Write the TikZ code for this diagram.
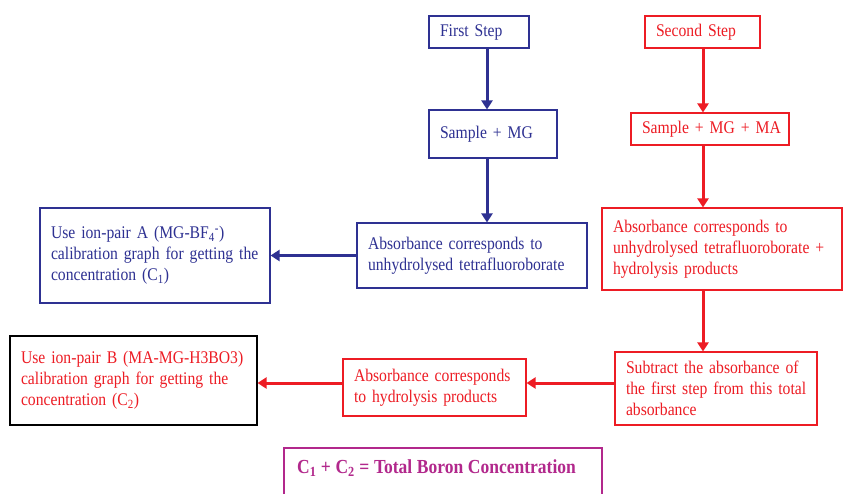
\documentclass[tikz,border=0pt]{standalone}
\usepackage{fontspec}
\setmainfont[FakeStretch=0.88]{Liberation Serif}
\usetikzlibrary{arrows.meta}
\definecolor{fblue}{RGB}{46,49,146}
\definecolor{fred}{RGB}{237,28,36}
\definecolor{fmag}{RGB}{178,40,140}
\newcommand{\boxfont}{\fontsize{17.8}{21}\selectfont\fontdimen2\font=3.9pt\relax}
\newcommand{\totfont}{\fontsize{19.9}{22}\selectfont\bfseries\fontdimen2\font=4.6pt\relax}
\newcommand{\lineof}[1]{\mbox{#1}}
\tikzset{
  box/.style={draw, line width=1.1pt, inner xsep=11pt, inner ysep=0pt, align=left, font=\boxfont},
  bbox/.style={box, draw=fblue, text=fblue},
  rbox/.style={box, draw=fred, text=fred},
  kbox/.style={box, draw=black, text=fred},
  sz/.style 2 args={text width=#1pt-22pt, minimum width=#1pt, minimum height=#2pt},
  barrow/.style={draw=fblue, line width=3pt, -{Triangle[length=9pt,width=11pt]}},
  rarrow/.style={draw=fred, line width=3pt, -{Triangle[length=9pt,width=11pt]}},
}
\begin{document}
\begin{tikzpicture}[x=1pt,y=-1pt]
\useasboundingbox[fill=white] (0,0) rectangle (843,493);
\coordinate (bx) at (487,0);
\coordinate (rx) at (703,0);
\coordinate (ry) at (0,383);
\node[bbox, sz={100}{32}] (first) at (479,32) {\lineof{First Step}};
\node[rbox, sz={115}{32}] (second) at (702.5,32) {\lineof{Second Step}};
\node[bbox, sz={128}{48}] (s1) at (493,134) {\lineof{Sample + MG}};
\node[rbox, sz={158}{32}] (s2) at (710,129) {\lineof{Sample + MG + MA}};
\node[bbox, sz={230}{65}] (a1) at (472,255.5) {\lineof{Absorbance corresponds to}\\\lineof{unhydrolysed tetrafluoroborate}};
\node[bbox, sz={230}{95}] (l1) at (155,255.5) {\lineof{Use ion-pair A (MG-BF\textsubscript{4}\textsuperscript{\textbf{-}})}\\\lineof{calibration graph for getting the}\\\lineof{concentration (C\textsubscript{1})}};
\node[rbox, sz={240}{82}] (a2) at (722,249) {\lineof{Absorbance corresponds to}\\\lineof{unhydrolysed tetrafluoroborate +}\\\lineof{hydrolysis products}};
\node[rbox, sz={202}{73}] (sub) at (716,388.5) {\lineof{Subtract the absorbance of}\\\lineof{the first step from this total}\\\lineof{absorbance}};
\node[rbox, sz={183}{57}] (hyd) at (434.5,387.5) {\lineof{Absorbance corresponds}\\\lineof{to hydrolysis products}};
\node[kbox, sz={247}{89}] (l2) at (133.5,380.5) {\lineof{Use ion-pair B (MA-MG-H3BO3)}\\\lineof{calibration graph for getting the}\\\lineof{concentration (C\textsubscript{2})}};
\node[draw=fmag, line width=2.2pt, minimum width=318pt, minimum height=62pt] (total) at (443,479) {};
\node[anchor=west, text=fmag, font=\totfont, inner sep=0pt] (ttext) at ([xshift=14pt]total.west |- 0,468) {C\textsubscript{1} + C\textsubscript{2} = Total Boron Concentration};
\draw[barrow] (first.south -| bx) -- (s1.north -| bx);
\draw[barrow] (s1.south -| bx) -- (a1.north -| bx);
\draw[barrow] (a1.west) -- (l1.east);
\draw[rarrow] (second.south -| rx) -- (s2.north -| rx);
\draw[rarrow] (s2.south -| rx) -- (a2.north -| rx);
\draw[rarrow] (a2.south -| rx) -- (sub.north -| rx);
\draw[rarrow] (sub.west |- ry) -- (hyd.east |- ry);
\draw[rarrow] (hyd.west |- ry) -- (l2.east |- ry);
\end{tikzpicture}
\end{document}
